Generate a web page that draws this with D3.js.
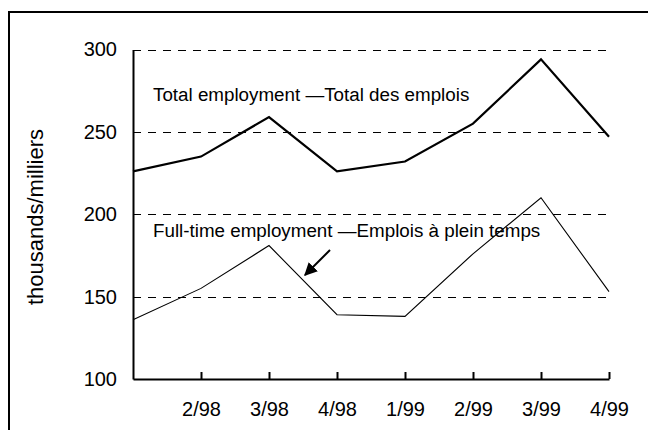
<!DOCTYPE html>
<html>
<head>
<meta charset="utf-8">
<script src="https://cdn.jsdelivr.net/npm/d3@7"></script>
<style>
  html, body { margin: 0; padding: 0; background: #fff; }
  svg { display: block; font-family: "Liberation Sans", Arial, sans-serif; }
</style>
</head>
<body>
<svg id="chart" width="648" height="430"></svg>
<script>
// Quarterly employment, thousands
const quarters = ["1/98", "2/98", "3/98", "4/98", "1/99", "2/99", "3/99", "4/99"];
const totalEmployment = [226, 235, 259, 226, 232, 255, 294, 247];
const fullTimeEmployment = [136, 155, 181, 139, 138, 176, 210, 153];
const yTicks = [100, 150, 200, 250, 300];
const gridValues = [150, 200, 250, 300];
const labelTotal = "Total employment \u2014Total des emplois";
const labelFullTime = "Full-time employment \u2014Emplois \u00e0 plein temps";
const yTitle = "thousands/milliers";

const svg = d3.select("#chart");

// Outer frame (extends past the right and bottom edges)
svg.append("rect")
  .attr("x", 9).attr("y", 12)
  .attr("width", 700).attr("height", 500)
  .attr("fill", "none").attr("stroke", "#000").attr("stroke-width", 2);

const x = d3.scalePoint().domain(quarters).range([133, 609]);
const y = d3.scaleLinear().domain([100, 300]).range([379, 49.5]);

// Dashed gridlines
svg.append("g").selectAll("line")
  .data(gridValues)
  .join("line")
  .attr("x1", x.range()[0]).attr("x2", x.range()[1])
  .attr("y1", d => Math.round(y(d)) + 0.5).attr("y2", d => Math.round(y(d)) + 0.5)
  .attr("stroke", "#000").attr("stroke-width", 1)
  .attr("stroke-dasharray", "8,7");

// Y axis
const yAxis = svg.append("g")
  .attr("transform", `translate(${x.range()[0]},0)`)
  .call(d3.axisLeft(y).tickValues(yTicks).tickSize(0).tickPadding(16).tickFormat(d3.format("d")));
yAxis.select(".domain").attr("stroke", "#000").attr("stroke-width", 2);
yAxis.selectAll("text").attr("font-size", 20).attr("fill", "#000")
  .attr("font-family", "Liberation Sans, Arial, sans-serif");

// X axis with inward ticks
const xAxis = svg.append("g")
  .attr("transform", `translate(0,${y(100)})`)
  .call(d3.axisBottom(x).tickValues(quarters.slice(1)).tickSizeInner(-7).tickSizeOuter(0).tickPadding(23));
xAxis.select(".domain").attr("stroke", "#000").attr("stroke-width", 2);
xAxis.selectAll(".tick line").attr("stroke", "#000").attr("stroke-width", 2);
xAxis.selectAll("text").attr("font-size", 20).attr("fill", "#000")
  .attr("font-family", "Liberation Sans, Arial, sans-serif");

// Y axis title
svg.append("text")
  .attr("transform", "translate(43,217) rotate(-90)")
  .attr("text-anchor", "middle")
  .attr("font-size", 22)
  .text(yTitle);

// Series lines
const line = d3.line().x((d, i) => x(quarters[i])).y(d => y(d));
svg.append("path").datum(totalEmployment)
  .attr("d", line).attr("fill", "none")
  .attr("stroke", "#000").attr("stroke-width", 2.2).attr("stroke-linejoin", "miter");
svg.append("path").datum(fullTimeEmployment)
  .attr("d", line).attr("fill", "none")
  .attr("stroke", "#000").attr("stroke-width", 1.1).attr("stroke-linejoin", "miter");

// Series labels
svg.append("text").attr("x", 153).attr("y", 101).attr("font-size", 18.8).text(labelTotal);
svg.append("text").attr("x", 153).attr("y", 237).attr("font-size", 18.8).text(labelFullTime);

// Arrow pointing to the full-time line
svg.append("defs").append("marker")
  .attr("id", "head").attr("viewBox", "0 0 10 10")
  .attr("refX", 9).attr("refY", 5)
  .attr("markerWidth", 13).attr("markerHeight", 13)
  .attr("markerUnits", "userSpaceOnUse")
  .attr("orient", "auto")
  .append("path").attr("d", "M0,0 L10,5 L0,10 Z").attr("fill", "#000");
svg.append("line")
  .attr("x1", 330).attr("y1", 250).attr("x2", 305).attr("y2", 275)
  .attr("stroke", "#000").attr("stroke-width", 2)
  .attr("marker-end", "url(#head)");
</script>
</body>
</html>
